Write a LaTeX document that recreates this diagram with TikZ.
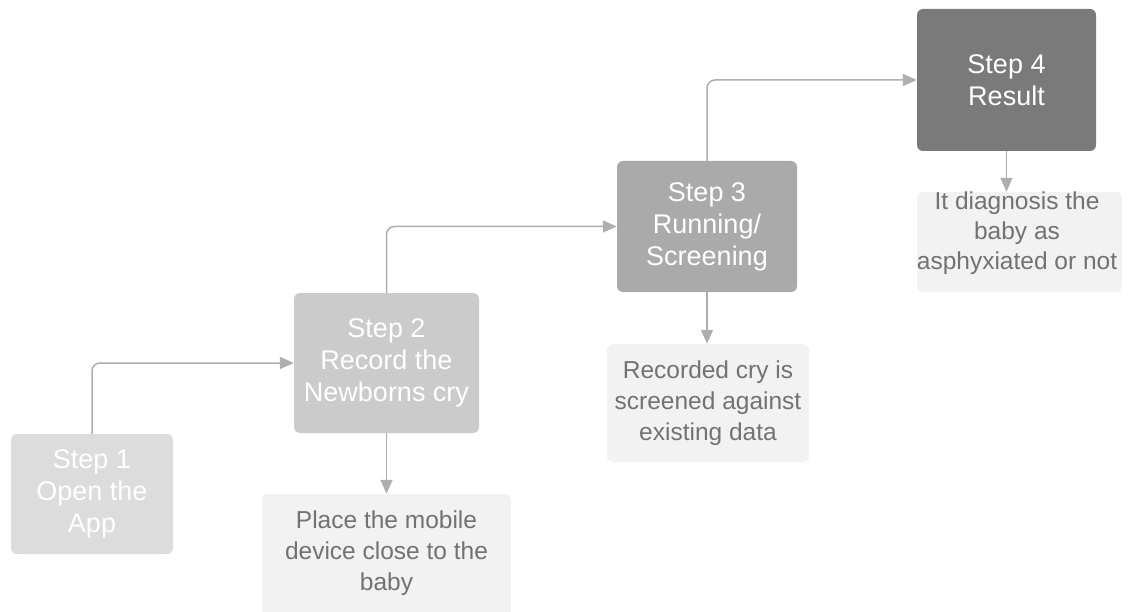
\documentclass[tikz,border=0pt]{standalone}
\usepackage{fontspec}
\setmainfont{Liberation Sans}
\usetikzlibrary{arrows.meta}
\definecolor{stepA}{HTML}{DCDCDC}
\definecolor{stepB}{HTML}{CBCBCB}
\definecolor{stepC}{HTML}{AAAAAA}
\definecolor{stepD}{HTML}{7A7A7A}
\definecolor{notefill}{HTML}{F2F2F2}
\definecolor{notetext}{HTML}{727272}
\definecolor{linkcol}{HTML}{AEAEAE}
\begin{document}
\begin{tikzpicture}[x=1pt,y=-1pt,
  stepbox/.style={rounded corners=6pt, text=white, align=center,
    font=\fontsize{27}{32}\selectfont, inner sep=0pt},
  notebox/.style={rounded corners=6pt, fill=notefill, text=notetext, align=center,
    font=\fontsize{24.5}{31}\selectfont, inner sep=0pt},
  notetxt/.style={text=notetext, align=center, font=\fontsize{24.5}{31}\selectfont, inner sep=0pt},
  link/.style={draw=linkcol, line width=1.5pt, rounded corners=8pt,
    -{Triangle[length=14pt,width=12pt]}}]
\useasboundingbox (0,0) rectangle (1129,612);

% main steps
\node[stepbox, fill=stepA, minimum width=162pt, minimum height=120pt] (s1) at (92,494) {Step 1\\Open the\\App};
\node[stepbox, fill=stepB, minimum width=185pt, minimum height=140pt] (s2) at (386.5,363) {Step 2\\Record the\\Newborns cry};
\node[stepbox, fill=stepC, minimum width=180pt, minimum height=131pt] (s3) at (707,226.5) {Step 3\\Running/\\Screening};
\node[stepbox, fill=stepD, minimum width=179pt, minimum height=142pt] (s4) at (1006.5,80) {Step 4\\Result};

% notes under the steps
\node[notebox, minimum width=249pt, minimum height=130pt] (d2) at (386.5,559) {};
\node[notetxt] (d2t) at (386.5,553) {Place the mobile\\device close to the\\baby};
\node[notebox, minimum width=202pt, minimum height=118pt] (d3) at (708,403) {Recorded cry is\\screened against\\existing data};
\node[notebox, minimum width=205pt, minimum height=100pt] (d4) at (1019.5,242) {};
\node[notetxt, font=\fontsize{24.5}{30}\selectfont] (d4t) at (1017,233) {It diagnosis the\\baby as\\asphyxiated or not};

% connectors
\draw[link] (s1.north) |- (s2.west);
\draw[link] (s2.north) |- (s3.west);
\draw[link] (s3.north) |- (s4.west);
\draw[link] (s2.south) -- (s2.south |- d2.north);
\draw[link] (s3.south) -- (s3.south |- d3.north);
\draw[link] (s4.south) -- (s4.south |- d4.north);
\end{tikzpicture}
\end{document}
